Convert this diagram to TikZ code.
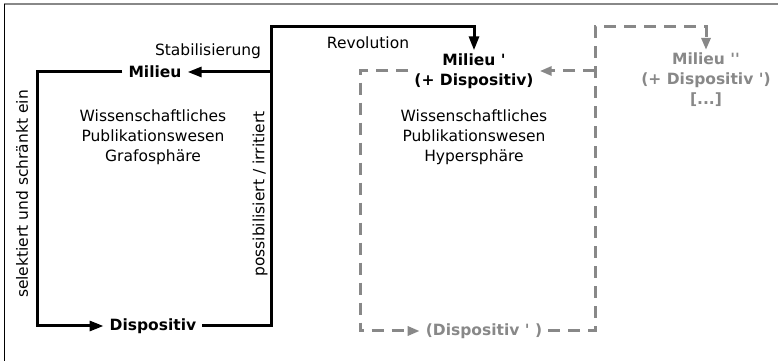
\documentclass[tikz,border=0pt]{standalone}
\usepackage{fontspec}
\setmainfont{DejaVu Sans}[Ligatures=TeXOff]
\usepackage{xcolor}
\usetikzlibrary{arrows.meta}
\definecolor{dashgray}{HTML}{888888}
\tikzset{
    txt/.style={font=\fontsize{15.5}{20}\selectfont, align=center},
    boldtxt/.style={font=\fontsize{15.5}{20}\selectfont\bfseries, align=center, inner xsep=6pt, inner ysep=3pt},
    solidline/.style={line width=3pt, black},
    dashline/.style={line width=3pt, dashgray, dash pattern=on 12pt off 8pt},
    tip/.style={-{Triangle[length=14pt,width=10pt]}},
    graytip/.style={-{Triangle[length=12pt,width=9pt]}}
}

\begin{document}
\begin{tikzpicture}[x=1pt,y=1pt]
    \useasboundingbox (0,0) rectangle (778,361);
    \draw[dashgray,line width=1.5pt] (4,357) -- (778,357);
    \draw[line width=1pt] (4,357) -- (4,0);
    \node[boldtxt] (milieu) at (155,289) {Milieu};
    \node[boldtxt] (dispo) at (153,35) {Dispositiv};
    \node[boldtxt] (milieuB) at (474,290) {Milieu '\\(+ Dispositiv)};
    \node[boldtxt,dashgray] (dispoB) at (484,30) {(Dispositiv ' )};
    \node[boldtxt,dashgray] (milieuC) at (706,281) {Milieu ''\\(+ Dispositiv ')\\{[...]}};
    \node[txt] (grafo) at (153,224) {Wissenschaftliches\\Publikationswesen\\Grafosphäre};
    \node[txt] (hyper) at (474,224) {Wissenschaftliches\\Publikationswesen\\Hypersphäre};
    \node[txt] (stab) at (208,310) {Stabilisierung};
    \node[txt] (revo) at (368,318) {Revolution};
    \node[txt,rotate=90] (selekt) at (22,167) {selektiert und schränkt ein};
    \node[txt,rotate=90] (possib) at (260,167) {possibilisiert / irritiert};
    \coordinate (fork) at (271,289);
    \coordinate (forkB) at (595,290);
    \draw[solidline,tip] (milieu.west) -- (37,289) -- (37,35) -- (dispo.west);
    \draw[solidline,tip] (dispo.east) -- (271,35) -- (271,334) -| (milieuB.north);
    \draw[solidline,tip] (fork) -- (milieu.east);
    \draw[dashline,graytip] (milieuB.west) -- (360,290) -- (360,30) -- (dispoB.west);
    \draw[dashline,graytip] (dispoB.east) -- (595,30) -- (595,334) -| (milieuC.north);
    \draw[dashline,graytip] (forkB) -- (milieuB.east);
\end{tikzpicture}
\end{document}
